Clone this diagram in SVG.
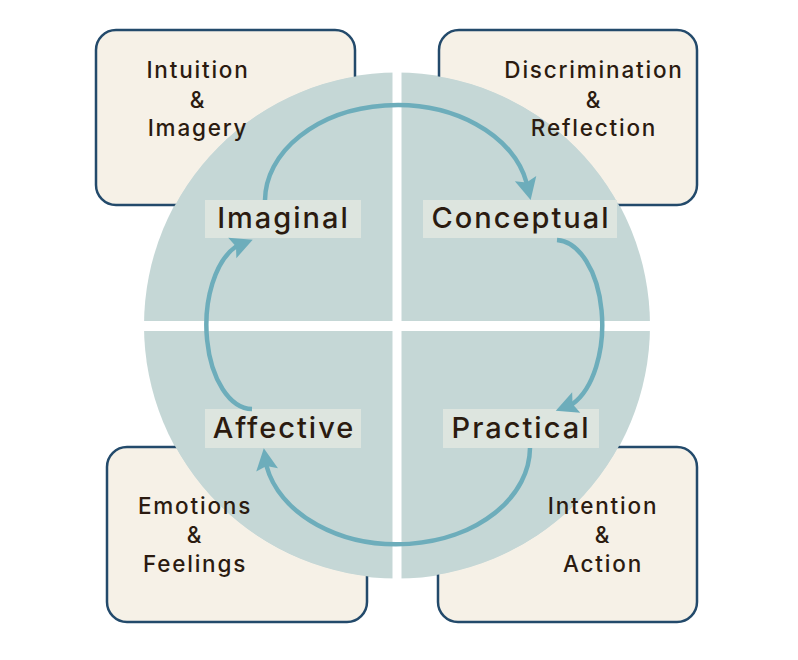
<svg xmlns="http://www.w3.org/2000/svg" width="798" height="660" viewBox="0 0 798 660">
<style>
.box{fill:#f6f1e7;stroke:#234a6b;stroke-width:2.5}
.btxt{font-family:Inter,"Noto Sans","Liberation Sans",sans-serif;font-size:22.5px;font-weight:500;letter-spacing:1.8px;fill:#2b1b10;text-anchor:middle}
.lbl{fill:#dde5df}
.ltxt{font-family:Inter,"Noto Sans","Liberation Sans",sans-serif;font-size:29px;font-weight:500;letter-spacing:2px;fill:#2b1b10;text-anchor:middle}
.arr{fill:none;stroke:#6dadbb;stroke-width:4.5;marker-end:url(#ah)}
</style>
<defs>
<marker id="ah" markerUnits="userSpaceOnUse" markerWidth="40" markerHeight="40" viewBox="-10 -20 40 40" refX="0" refY="0" orient="auto" overflow="visible">
<path d="M17,0 L-5,-11 L-1,0 L-5,11 Z" fill="#6dadbb"/>
</marker>
<mask id="nocircle" maskUnits="userSpaceOnUse" x="0" y="0" width="798" height="660">
<rect width="798" height="660" fill="#ffffff"/>
<circle cx="397" cy="325.5" r="252.5" fill="#000000"/>
</mask>
</defs>
<rect width="798" height="660" fill="#ffffff"/>
<g id="circle">
<circle cx="397" cy="325.5" r="253" fill="#c5d7d6"/>
<rect x="392.5" y="60" width="9" height="530" fill="#ffffff"/>
<rect x="130" y="321" width="540" height="10" fill="#ffffff"/>
</g>
<g id="box-intuition">
<rect class="box" x="96" y="30" width="259" height="175" rx="20" mask="url(#nocircle)"/>
<text class="btxt" x="198" y="78">Intuition</text>
<text class="btxt" x="198" y="107.5">&amp;</text>
<text class="btxt" x="198" y="136">Imagery</text>
</g>
<g id="box-discrimination">
<rect class="box" x="439" y="30" width="258" height="175" rx="20" mask="url(#nocircle)"/>
<text class="btxt" x="594" y="78">Discrimination</text>
<text class="btxt" x="594" y="107.5">&amp;</text>
<text class="btxt" x="594" y="136">Reflection</text>
</g>
<g id="box-emotions">
<rect class="box" x="107" y="447" width="260" height="175" rx="20" mask="url(#nocircle)"/>
<text class="btxt" x="195" y="514">Emotions</text>
<text class="btxt" x="195" y="543">&amp;</text>
<text class="btxt" x="195" y="572">Feelings</text>
</g>
<g id="box-intention">
<rect class="box" x="438" y="447" width="259" height="175" rx="20" mask="url(#nocircle)"/>
<text class="btxt" x="603" y="514">Intention</text>
<text class="btxt" x="603" y="543">&amp;</text>
<text class="btxt" x="603" y="572">Action</text>
</g>
<g id="label-imaginal">
<rect class="lbl" x="205" y="200" width="156" height="38"/>
<text class="ltxt" x="283.5" y="228">Imaginal</text>
</g>
<g id="label-conceptual">
<rect class="lbl" x="423" y="200" width="194" height="38"/>
<text class="ltxt" x="521" y="228">Conceptual</text>
</g>
<g id="label-affective">
<rect class="lbl" x="205" y="409" width="156" height="39"/>
<text class="ltxt" x="284" y="438">Affective</text>
</g>
<g id="label-practical">
<rect class="lbl" x="443" y="409" width="156" height="39"/>
<text class="ltxt" x="521" y="438">Practical</text>
</g>
<g id="connectors">
<path class="arr" d="M265,200 A132,96 0 0 1 526.5,182.5 l0.23,0.97"/>
<path class="arr" d="M557,240 A47,85 0 0 1 572.5,404 l-0.93,0.37"/>
<path class="arr" d="M530,448 A133,97 0 0 1 266.5,466 l-0.15,-0.99"/>
<path class="arr" d="M252,409 A46,84 0 0 1 236,246.5 l0.93,-0.37"/>
</g>
</svg>
